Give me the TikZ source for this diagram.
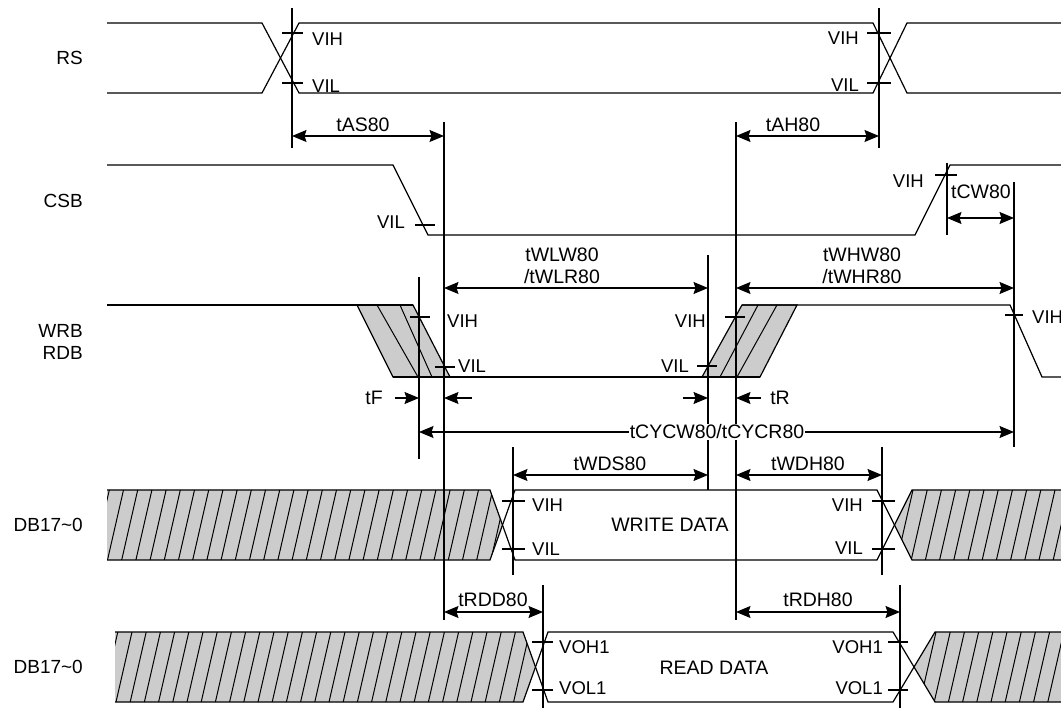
\documentclass[tikz,border=0pt]{standalone}
\usepackage{fontspec}
\setmainfont{Liberation Sans}
\usetikzlibrary{arrows.meta}
\tikzset{
  sig/.style={line width=1.2pt, line join=miter},
  vline/.style={line width=1.2pt},
  tickm/.style={line width=1.2pt},
  hatchl/.style={line width=1pt},
  shade/.style={fill=gray!40},
  dimarr/.style={line width=1.2pt, {Stealth[length=14.5pt,width=12pt,inset=2pt]}-{Stealth[length=14.5pt,width=12pt,inset=2pt]}},
  onearr/.style={line width=1.2pt, -{Stealth[length=14.5pt,width=12pt,inset=2pt]}},
  txt/.style={inner sep=0pt, font=\fontsize{19.5}{22}\selectfont},
  sname/.style={inner sep=0pt, anchor=east, font=\fontsize{19}{22}\selectfont},
  lvl/.style={inner sep=0pt, font=\fontsize{18.5}{21}\selectfont},
}
\begin{document}
\begin{tikzpicture}[x=1pt,y=-1pt]
\useasboundingbox (0,0) rectangle (1061,708);
\fill[white] (0,0) rectangle (1061,708);

% ---------- signal names ----------
\node[sname] (nRS)  at (83,58)  {RS};
\node[sname] (nCSB) at (83,201) {CSB};
\node[sname] (nWRB) at (83,331) {WRB};
\node[sname] (nRDB) at (83,353) {RDB};
\node[sname] (nDBw) at (83,525) {DB17\char`~0};
\node[sname] (nDBr) at (83,667) {DB17\char`~0};

% ---------- RS ----------
\draw[sig] (107,23) -- (262,23) -- (299,93) -- (873,93) -- (907,23) -- (1061,23);
\draw[sig] (107,93) -- (262,93) -- (299,23) -- (873,23) -- (907,93) -- (1061,93);
\draw[tickm] (282,33) -- (303,33);
\draw[tickm] (282,83) -- (303,83);
\draw[tickm] (867,33) -- (891,33);
\draw[tickm] (867,83) -- (891,83);
\node[lvl, anchor=west] (rsvih1) at (312,39) {VIH};
\node[lvl, anchor=west] (rsvil1) at (312,86) {VIL};
\node[lvl, anchor=east] (rsvih2) at (859,38) {VIH};
\node[lvl, anchor=east] (rsvil2) at (859,85) {VIL};

% ---------- CSB ----------
\draw[sig] (107,165) -- (393,165) -- (428,235) -- (915,235) -- (950,165) -- (1061,165);
\draw[tickm] (415,225) -- (435,225);
\draw[tickm] (935,175) -- (957,175);
\node[lvl, anchor=east] (csvil) at (405,222) {VIL};
\node[lvl, anchor=east] (csvih) at (924,181) {VIH};

% ---------- WRB / RDB ----------
\filldraw[shade, sig] (357,305) -- (413,305) -- (450,377) -- (393,377) -- cycle;
\draw[hatchl] (377,305) -- (418,377);
\draw[hatchl] (400,305) -- (432,377);
\filldraw[shade, sig] (742,305) -- (797,305) -- (760,377) -- (702,377) -- cycle;
\draw[hatchl] (758,305) -- (720,377);
\draw[hatchl] (777,305) -- (737,377);
\draw[sig] (107,305) -- (413,305);
\draw[sig] (393,377) -- (760,377);
\draw[sig] (742,305) -- (1010,305) -- (1042,377) -- (1061,377);
\draw[tickm] (410,317) -- (430,317);
\draw[tickm] (435,367) -- (455,367);
\draw[tickm] (697,366) -- (717,366);
\draw[tickm] (725,317) -- (745,317);
\draw[tickm] (1005,315) -- (1023,315);
\node[lvl, anchor=west] (wvih1) at (447,321) {VIH};
\node[lvl, anchor=west] (wvil1) at (458,366) {VIL};
\node[lvl, anchor=east] (wvih2) at (706,321) {VIH};
\node[lvl, anchor=east] (wvil2) at (689,366) {VIL};
\node[lvl, anchor=west] (wvih3) at (1032,317) {VIH};

% ---------- DB write ----------
\fill[shade] (107,490) -- (490,490) -- (502.5,525) -- (490,560) -- (107,560) -- cycle;
\begin{scope}
\clip (107,490) -- (490,490) -- (502.5,525) -- (490,560) -- (107,560) -- cycle;
\foreach \k in {-2,...,28} {\draw[hatchl] ({107.5+14.2*\k},560) -- ({123.5+14.2*\k},490);}
\end{scope}
\fill[shade] (894.5,525) -- (912,490) -- (1061,490) -- (1061,560) -- (912,560) -- cycle;
\begin{scope}
\clip (894.5,525) -- (912,490) -- (1061,490) -- (1061,560) -- (912,560) -- cycle;
\foreach \k in {-2,...,12} {\draw[hatchl] ({897+14.2*\k},560) -- ({913+14.2*\k},490);}
\end{scope}
\draw[sig] (107,490) -- (490,490) -- (515,560) -- (877,560) -- (912,490) -- (1061,490);
\draw[sig] (107,560) -- (490,560) -- (515,490) -- (877,490) -- (912,560) -- (1061,560);
\draw[tickm] (502,501) -- (525,501);
\draw[tickm] (502,549) -- (525,549);
\draw[tickm] (872,501) -- (895,501);
\draw[tickm] (872,549) -- (895,549);
\node[lvl, anchor=west] (dvih1) at (532,505) {VIH};
\node[lvl, anchor=west] (dvil1) at (532,549) {VIL};
\node[lvl, anchor=east] (dvih2) at (863,505) {VIH};
\node[lvl, anchor=east] (dvil2) at (863,548) {VIL};
\node[txt] (wdata) at (670,525) {WRITE DATA};

% ---------- DB read ----------
\fill[shade] (115,632) -- (523,632) -- (535.5,667) -- (523,702) -- (115,702) -- cycle;
\begin{scope}
\clip (115,632) -- (523,632) -- (535.5,667) -- (523,702) -- (115,702) -- cycle;
\foreach \k in {-2,...,30} {\draw[hatchl] ({116+14.2*\k},702) -- ({132+14.2*\k},632);}
\end{scope}
\fill[shade] (914,667) -- (935,632) -- (1061,632) -- (1061,702) -- (935,702) -- cycle;
\begin{scope}
\clip (914,667) -- (935,632) -- (1061,632) -- (1061,702) -- (935,702) -- cycle;
\foreach \k in {-2,...,12} {\draw[hatchl] ({920+14.2*\k},702) -- ({936+14.2*\k},632);}
\end{scope}
\draw[sig] (115,632) -- (523,632) -- (548,702) -- (893,702) -- (935,632) -- (1061,632);
\draw[sig] (115,702) -- (523,702) -- (548,632) -- (893,632) -- (935,702) -- (1061,702);
\draw[tickm] (532,642) -- (553,642);
\draw[tickm] (532,690) -- (553,690);
\draw[tickm] (888,642) -- (908,642);
\draw[tickm] (888,690) -- (908,690);
\node[lvl, anchor=west] (rvoh1) at (559,647) {VOH1};
\node[lvl, anchor=west] (rvol1) at (559,688) {VOL1};
\node[lvl, anchor=east] (rvoh2) at (883,647) {VOH1};
\node[lvl, anchor=east] (rvol2) at (883,688) {VOL1};
\node[txt] (rdata) at (714,668) {READ DATA};

% ---------- reference vertical lines ----------
\draw[vline] (292,8) -- (292,148);
\draw[vline] (879,8) -- (879,148);
\draw[vline] (444,122) -- (444,620);
\draw[vline] (736,122) -- (736,620);
\draw[vline] (947,163) -- (947,235);
\draw[vline] (1014,182) -- (1014,447);
\draw[vline] (419,277) -- (419,459);
\draw[vline] (708,255) -- (708,490);
\draw[vline] (513,447) -- (513,575);
\draw[vline] (882,447) -- (882,575);
\draw[vline] (543,585) -- (543,708);
\draw[vline] (900,585) -- (900,708);

% ---------- timing arrows ----------
\draw[dimarr] (292,136) -- (444,136);
\node[txt, anchor=base] (tAS) at (363,132) {tAS80};
\draw[dimarr] (736,136) -- (879,136);
\node[txt, anchor=base] (tAH) at (793,132) {tAH80};
\draw[dimarr] (947,218) -- (1014,218);
\node[txt, anchor=base] (tCW) at (981,199) {tCW80};
\draw[dimarr] (444,288) -- (708,288);
\node[txt, anchor=base, align=center] (tWL) at (562,284) {tWLW80\\/tWLR80};
\draw[dimarr] (736,288) -- (1014,288);
\node[txt, anchor=base, align=center] (tWH) at (862,284) {tWHW80\\/tWHR80};
\draw[onearr] (395,398) -- (419,398);
\draw[onearr] (472,398) -- (444,398);
\node[txt, anchor=base] (tF) at (374,405) {tF};
\draw[onearr] (683,398) -- (708,398);
\draw[onearr] (761,398) -- (736,398);
\node[txt, anchor=base] (tR) at (780,405) {tR};
\draw[dimarr] (419,432) -- (1014,432);
\node[txt, fill=white, inner xsep=0.5pt, inner ysep=1pt] (tCYC) at (717,432) {tCYCW80/tCYCR80};
\draw[dimarr] (513,475) -- (708,475);
\node[txt, anchor=base] (tWDS) at (610,471) {tWDS80};
\draw[dimarr] (736,475) -- (882,475);
\node[txt, anchor=base] (tWDH) at (808,471) {tWDH80};
\draw[dimarr] (444,612) -- (543,612);
\node[txt, anchor=base] (tRDD) at (493,606) {tRDD80};
\draw[dimarr] (736,612) -- (900,612);
\node[txt, anchor=base] (tRDH) at (818,606) {tRDH80};
\end{tikzpicture}
\end{document}
